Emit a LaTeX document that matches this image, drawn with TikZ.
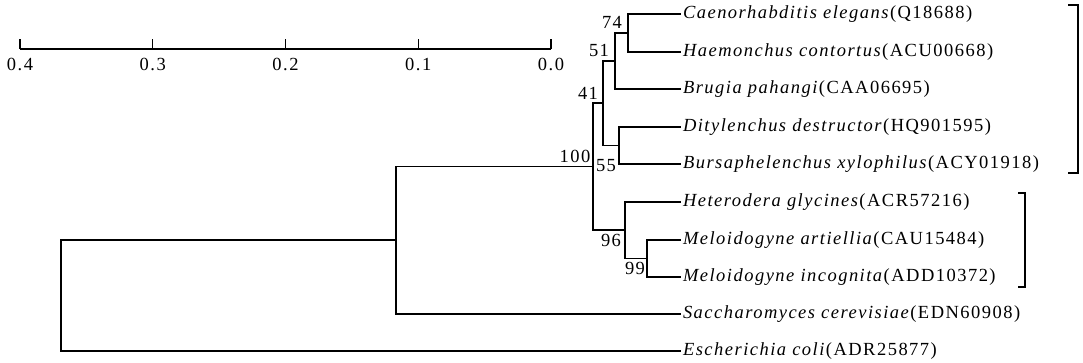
\documentclass[tikz,border=0pt]{standalone}
\usepackage{fontspec}
\setmainfont[LetterSpace=8]{Liberation Serif}
\usetikzlibrary{calc}
\begin{document}
\begin{tikzpicture}[x=1pt,y=-1pt,
  branch/.style={line width=1.6pt,line cap=rect},
  leaf/.style={anchor=west,inner sep=3pt,outer sep=0pt,font=\fontsize{18.5}{20}\selectfont},
  boot/.style={inner sep=0pt,font=\fontsize{18.5}{20}\selectfont},
  scalelbl/.style={inner sep=0pt,font=\fontsize{18.5}{20}\selectfont},
  bracket/.style={line width=1.6pt}]
\useasboundingbox (0,0) rectangle (1083,363);
% leaves
\node[leaf] (L1) at (680,14) {\textit{Caenorhabditis elegans}(Q18688)};
\node[leaf] (L2) at (680,52) {\textit{Haemonchus contortus}(ACU00668)};
\node[leaf] (L3) at (680,89) {\textit{Brugia pahangi}(CAA06695)};
\node[leaf] (L4) at (680,127) {\textit{Ditylenchus destructor}(HQ901595)};
\node[leaf] (L5) at (680,164) {\textit{Bursaphelenchus xylophilus}(ACY01918)};
\node[leaf] (L6) at (680,202) {\textit{Heterodera glycines}(ACR57216)};
\node[leaf] (L7) at (680,240) {\textit{Meloidogyne artiellia}(CAU15484)};
\node[leaf] (L8) at (680,277) {\textit{Meloidogyne incognita}(ADD10372)};
\node[leaf] (L9) at (680,314) {\textit{Saccharomyces cerevisiae}(EDN60908)};
\node[leaf] (L10) at (680,351) {\textit{Escherichia coli}(ADR25877)};
% internal nodes
\coordinate (n74) at (628,33);
\coordinate (n51) at (615,61);
\coordinate (n55) at (619,145.5);
\coordinate (n41) at (603,103);
\coordinate (n99) at (647,258.5);
\coordinate (n96) at (625,230);
\coordinate (n100) at (593,166.5);
\coordinate (nSc) at (396,240);
\coordinate (root) at (61,295.5);
% branches
\draw[branch] (L1.west) -| (n74) |- (L2.west);
\draw[branch] (n74) -| (n51) |- (L3.west);
\draw[branch] (L4.west) -| (n55) |- (L5.west);
\draw[branch] (n51) -| (n41) |- (n55);
\draw[branch] (L7.west) -| (n99) |- (L8.west);
\draw[branch] (L6.west) -| (n96) |- (n99);
\draw[branch] (n41) -| (n100) |- (n96);
\draw[branch] (n100) -| (nSc) |- (L9.west);
\draw[branch] (nSc) -| (root) |- (L10.west);
% bootstrap values
\node[boot] (b74) at (612,22) {74};
\node[boot] (b51) at (599,50) {51};
\node[boot] (b41) at (588,93) {41};
\node[boot] (b100) at (575,156) {100};
\node[boot] (b55) at (606,166) {55};
\node[boot] (b96) at (611,240) {96};
\node[boot] (b99) at (635,268) {99};
% scale bar
\coordinate (s0) at (20,49);
\coordinate (s4) at (551,49);
\draw[line width=1.3pt] (s0) -- (s4);
\foreach \i/\v in {0/0.4,1/0.3,2/0.2,3/0.1,4/0.0}{
  \coordinate (t\i) at ($(s0)!\i/4!(s4)$);
  \draw[line width=1.3pt] (t\i) -- ++(0,-10);
  \node[scalelbl] (sl\i) at ($(t\i)+(0,15)$) {\v};
}
% brackets
\coordinate (B1a) at (1068,5);
\coordinate (B1b) at (1068,173);
\draw[bracket] (B1a) -- ++(10,0) |- (B1b);
\coordinate (B2a) at (1018,193);
\coordinate (B2b) at (1018,287);
\draw[bracket] (B2a) -- ++(7,0) |- (B2b);
\end{tikzpicture}
\end{document}
